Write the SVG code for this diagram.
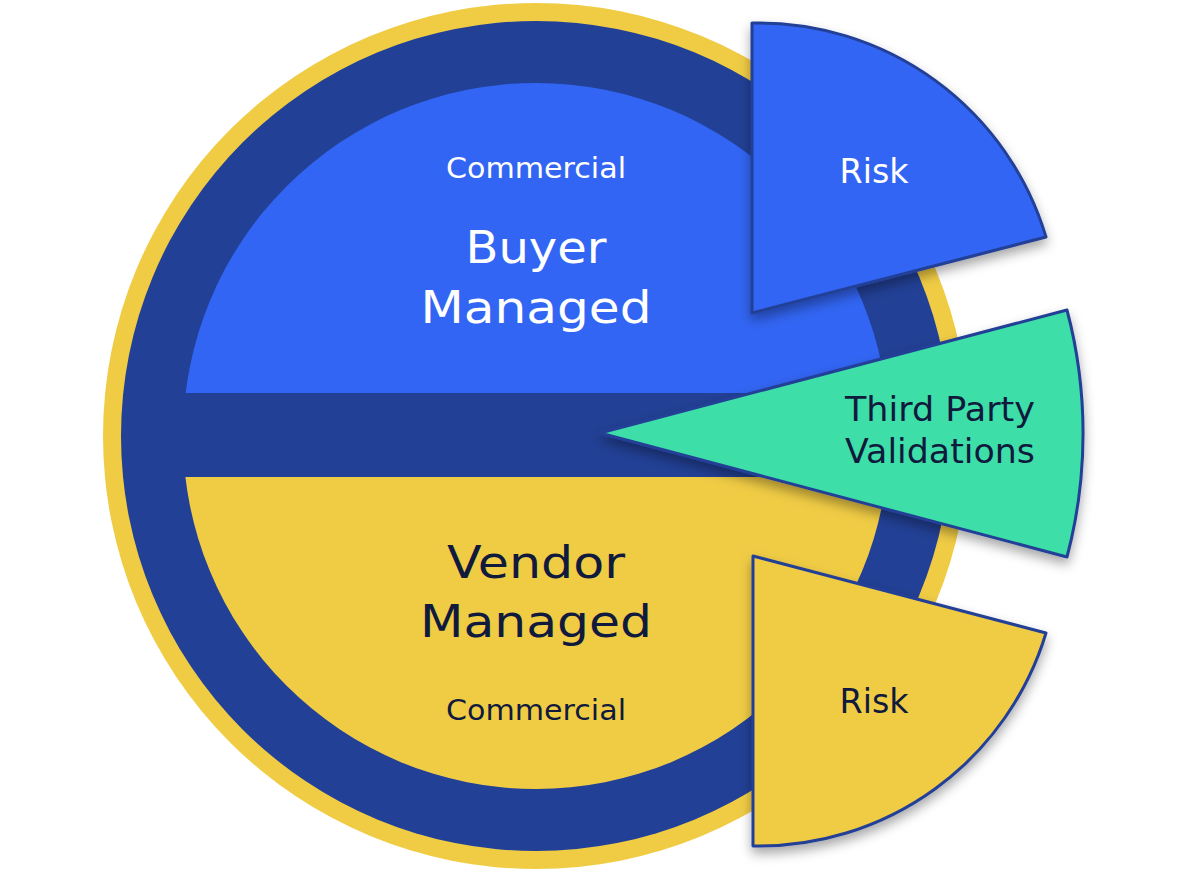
<svg xmlns="http://www.w3.org/2000/svg" width="1200" height="871" viewBox="0 0 1200 871">
<style>
.t{font-family:"DejaVu Sans","Noto Sans",sans-serif;text-anchor:middle}
.w{fill:#ffffff}
.d{fill:#101a3c}
.wedge{stroke:#243f96;stroke-width:3;stroke-linejoin:round}
</style>
<defs>
<filter id="sh" x="-20%" y="-20%" width="140%" height="140%">
<feDropShadow dx="0" dy="6" stdDeviation="6" flood-color="#000" flood-opacity="0.35"/>
</filter>
<clipPath id="topc"><rect x="0" y="0" width="1200" height="393"/></clipPath>
<clipPath id="botc"><rect x="0" y="477" width="1200" height="400"/></clipPath>
</defs>
<g id="ring">
<circle cx="536" cy="436" r="433" fill="#f0cc45"/>
<circle cx="536" cy="436" r="415" fill="#224095"/>
</g>
<g id="buyer">
<circle cx="536" cy="436" r="353" fill="#3265f3" clip-path="url(#topc)"/>
<text class="t w" x="536" y="178" font-size="29" textLength="180" lengthAdjust="spacingAndGlyphs">Commercial</text>
<text class="t w" x="536" y="263" font-size="44" textLength="141" lengthAdjust="spacingAndGlyphs">Buyer</text>
<text class="t w" x="536" y="323" font-size="44" textLength="231" lengthAdjust="spacingAndGlyphs">Managed</text>
</g>
<g id="vendor">
<circle cx="536" cy="436" r="353" fill="#f0cc45" clip-path="url(#botc)"/>
<text class="t d" x="536" y="578" font-size="44" textLength="178" lengthAdjust="spacingAndGlyphs">Vendor</text>
<text class="t d" x="536" y="637" font-size="44" textLength="232" lengthAdjust="spacingAndGlyphs">Managed</text>
<text class="t d" x="536" y="720" font-size="29" textLength="180" lengthAdjust="spacingAndGlyphs">Commercial</text>
</g>
<g id="risk-top">
<path class="wedge" filter="url(#sh)" fill="#3265f3" d="M752,23 L752,313 L1046,237 A300,300 0 0 0 752,23 Z"/>
<text class="t w" x="874" y="183" font-size="33" textLength="69" lengthAdjust="spacingAndGlyphs">Risk</text>
</g>
<g id="third-party">
<path class="wedge" filter="url(#sh)" fill="#3ddea8" d="M600,433 L1067,310 A483,483 0 0 1 1067,557 Z"/>
<text class="d" x="845" y="421" font-size="33" font-family="DejaVu Sans, sans-serif" textLength="190" lengthAdjust="spacingAndGlyphs">Third Party</text>
<text class="d" x="845" y="463" font-size="33" font-family="DejaVu Sans, sans-serif" textLength="190" lengthAdjust="spacingAndGlyphs">Validations</text>
</g>
<g id="risk-bottom">
<path class="wedge" filter="url(#sh)" fill="#f0cc45" d="M753,556 L1046,633 A300,300 0 0 1 753,846 Z"/>
<text class="t d" x="874" y="713" font-size="33" textLength="69" lengthAdjust="spacingAndGlyphs">Risk</text>
</g>
<g id="connectors"></g>
</svg>
